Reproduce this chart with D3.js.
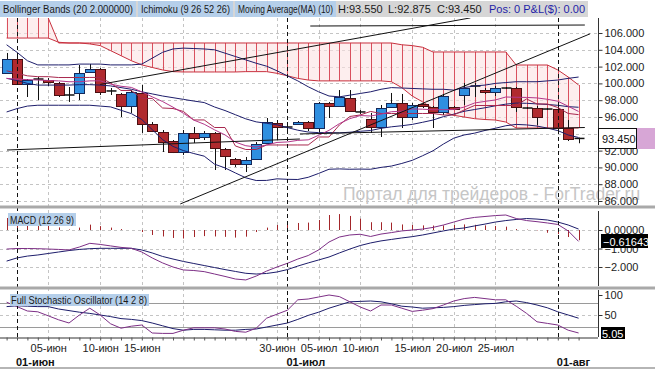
<!DOCTYPE html>
<html>
<head>
<meta charset="utf-8">
<script src="https://cdn.jsdelivr.net/npm/d3@7"></script>
<style>
  body { margin: 0; background: #fff; }
  svg { display: block; }
  text { font-family: "Liberation Sans", Arial, sans-serif; }
</style>
</head>
<body>
<div id="chart"></div>
<script>
// daily bars 31 May .. 03 Aug (no saturdays)
var dates = ["05-31","06-01","06-02","06-03","06-05","06-06","06-07","06-08","06-09","06-10",
  "06-12","06-13","06-14","06-15","06-16","06-17","06-19","06-20","06-21","06-22",
  "06-23","06-24","06-26","06-27","06-28","06-29","06-30","07-01","07-03","07-04",
  "07-05","07-06","07-07","07-08","07-10","07-11","07-12","07-13","07-14","07-15",
  "07-17","07-18","07-19","07-20","07-21","07-22","07-24","07-25","07-26","07-27",
  "07-28","07-29","07-31","08-01","08-02","08-03"];

var open = [101.24,102.90,99.93,100.52,100.40,100.05,98.62,98.86,101.36,101.71,
  99.10,98.74,97.31,98.86,95.17,94.21,93.14,91.83,94.10,93.62,
  94.10,92.19,91.00,90.40,91.00,92.90,95.29,94.81,95.17,95.40,
  94.69,97.67,97.31,98.26,96.60,95.76,94.81,97.19,97.67,96.00,
  97.55,97.19,96.60,97.19,98.62,99.69,99.21,98.98,99.45,99.45,
  97.07,97.07,96.95,96.95,94.69,93.45];
var high = [103.62,103.62,100.52,100.76,100.64,100.17,99.57,102.19,102.31,101.83,
  99.45,98.86,99.21,99.81,95.40,94.45,93.26,94.45,94.81,94.33,
  94.21,92.31,91.12,91.24,93.02,95.88,95.64,95.40,95.52,95.52,
  97.79,97.79,99.21,99.21,96.83,96.48,97.43,98.86,98.74,97.67,
  97.67,97.31,98.74,97.31,100.05,100.05,99.45,99.69,99.57,99.57,
  97.19,97.31,97.07,97.31,95.64,93.55];
var low = [101.12,99.81,98.38,98.02,99.69,98.38,97.79,98.02,101.24,98.62,
  98.62,96.00,96.48,94.10,94.21,91.83,91.71,91.48,92.90,93.26,
  89.69,89.69,90.05,89.45,90.88,92.90,93.26,94.45,95.05,94.33,
  94.21,95.88,97.19,96.60,96.36,94.10,93.62,97.07,94.69,95.64,
  97.07,94.69,96.24,96.83,97.43,98.38,98.74,98.50,99.33,96.60,
  96.95,95.05,96.83,94.21,93.14,92.875];
var close = [102.90,99.93,100.40,100.50,100.17,98.62,98.60,101.24,101.71,98.98,
  99.08,97.31,98.98,95.17,94.33,93.02,91.83,94.10,93.50,94.10,
  92.31,91.36,90.40,90.88,92.79,95.40,94.81,94.79,95.40,94.69,
  97.67,97.31,98.38,96.71,96.58,94.81,97.07,97.67,96.00,97.43,
  97.31,96.60,98.50,96.95,99.45,99.67,98.98,99.45,99.43,97.19,
  97.05,96.00,96.93,94.69,93.38,93.45];

var ma10 = [100.6,100.5,100.45,100.4,100.35,100.3,100.2,100.2,100.3,100.31,
  99.92,99.66,99.52,98.99,98.40,97.84,97.17,96.45,95.63,95.14,
  94.47,93.87,93.01,92.58,92.43,92.67,92.97,93.03,93.22,93.28,
  93.82,94.41,95.21,95.80,96.17,96.12,96.34,96.63,96.69,96.96,
  96.93,96.86,96.87,96.89,97.18,97.67,97.86,98.03,98.38,98.35,
  98.33,98.27,98.11,97.88,97.28,96.66];
var tenkan = [101.5,101.2,100.9,100.8,100.8,100.7,100.7,100.7,100.71,100.71,
  100.05,99.16,99.16,98.21,98.21,97.07,97.01,96.66,95.65,95.65,
  94.75,94.75,92.55,92.13,92.13,92.67,92.67,92.67,92.67,92.67,
  93.62,93.62,95.05,96.06,96.24,96.66,96.42,96.42,96.42,96.42,
  96.42,96.42,96.24,96.24,96.84,97.37,97.37,97.37,97.37,97.37,
  98.15,97.55,97.55,97.13,96.42,96.28];
var bbMid = [100.6,100.35,100.0,99.8,99.8,99.8,99.8,99.85,99.85,99.8,
  99.7,99.5,99.3,99.0,98.75,98.5,98.3,98.1,97.9,97.72,
  97.19,96.77,96.27,95.78,95.42,95.25,95.07,94.74,94.43,94.21,
  94.14,94.14,94.11,94.19,94.30,94.39,94.65,94.83,94.96,95.12,
  95.37,95.64,96.04,96.34,96.68,96.89,97.10,97.33,97.53,97.66,
  97.63,97.56,97.49,97.39,97.23,97.16];
var bbUp = [104.6,103.7,102.7,102.2,102.2,102.2,102.2,102.3,102.3,102.3,
  102.2,102.2,102.2,102.3,103.0,103.7,104.1,104.2,104.15,104.1,
  104.0,103.6,103.2,102.8,102.4,102.05,101.5,100.9,100.3,99.6,
  99.0,98.5,98.4,98.6,98.8,99.0,99.3,99.5,99.45,99.4,
  99.35,99.3,99.3,99.2,99.5,99.7,99.8,100.0,100.1,100.2,
  100.2,100.2,100.3,100.4,100.6,100.76];
var bbLow = [96.6,97.0,97.3,97.4,97.4,97.4,97.4,97.4,97.4,97.3,
  97.2,96.8,96.4,95.7,94.5,93.3,92.5,92.0,91.65,91.34,
  90.38,89.94,89.34,88.76,88.44,88.45,88.64,88.58,88.56,88.82,
  89.28,89.78,89.82,89.78,89.8,89.78,90.0,90.16,90.47,90.84,
  91.39,91.98,92.78,93.48,93.86,94.08,94.4,94.66,94.96,95.12,
  95.06,94.92,94.68,94.38,93.86,93.56];

var spanA = [108.7,108.7,108.7,108.7,107.8,104.81,104.81,104.81,104.81,104.81,
  104.81,104.81,104.81,104.81,104.81,104.81,104.81,104.81,104.81,104.81,
  104.81,104.81,104.81,104.81,104.81,104.81,104.81,104.81,104.81,104.81,
  104.81,104.81,104.81,104.81,104.81,104.81,104.81,104.81,104.6,104.5,
  104.3,103.74,103.74,103.74,103.74,103.74,103.74,103.74,103.74,102.19,
  102.19,102.19,102.19,101.6,100.76,99.81];
var spanB = [105.4,105.4,105.4,105.4,105.4,104.9,104.81,104.81,104.7,104.5,
  103.9,103.3,102.7,102.2,101.9,101.6,101.4,101.36,101.36,101.36,
  101.36,101.36,101.36,101.4,101.4,101.4,101.2,100.9,100.6,100.4,
  100.3,100.3,100.3,100.3,100.3,100.3,100.3,100.2,99.5,98.5,
  97.8,97.0,96.6,96.2,96.0,95.8,95.7,95.64,95.4,94.69,
  94.69,94.69,94.69,94.69,94.69,94.69];

// hand drawn trend lines: [bar position, price]
var trendLines = [
  [[9, 99.88], [44.6, 107.8]],
  [[16.7, 85.65], [56.1, 105.9]],
  [[29.2, 106.83], [55.6, 106.95]],
  [[0.04, 92.07], [28.2, 93.38]],
  [[28.2, 93.98], [55.6, 94.75]]
];

var macd = [-1.03,-1.0,-1.0,-1.01,-1.03,-1.05,-1.08,-0.92,-0.72,-0.78,
  -0.86,-0.94,-0.99,-1.19,-1.51,-1.78,-2.0,-2.16,-2.19,-2.25,
  -2.38,-2.51,-2.65,-2.7,-2.49,-2.22,-2.0,-1.8,-1.57,-1.38,
  -1.08,-0.65,-0.38,-0.27,-0.23,-0.35,-0.22,-0.14,-0.05,0.0,
  0.05,0.14,0.27,0.43,0.59,0.68,0.73,0.78,0.81,0.62,
  0.51,0.45,0.38,0.30,-0.05,-0.61643];
var signal = [-1.68,-1.51,-1.41,-1.35,-1.27,-1.19,-1.11,-1.05,-1.01,-0.99,
  -0.99,-0.99,-0.99,-1.08,-1.24,-1.43,-1.57,-1.70,-1.81,-1.92,
  -2.03,-2.14,-2.24,-2.34,-2.38,-2.35,-2.27,-2.14,-1.95,-1.78,
  -1.62,-1.46,-1.24,-1.03,-0.84,-0.70,-0.59,-0.51,-0.43,-0.36,
  -0.27,-0.16,-0.05,0.05,0.11,0.22,0.32,0.43,0.51,0.57,
  0.62,0.59,0.54,0.43,0.27,0.05];
var hist = [0.65,0.51,0.41,0.34,0.24,0.14,0.03,0.13,0.29,0.21,
  0.13,0.05,0.0,-0.11,-0.27,-0.35,-0.43,-0.46,-0.38,-0.33,
  -0.35,-0.37,-0.41,-0.36,-0.11,0.13,0.27,0.34,0.38,0.40,
  0.54,0.81,0.86,0.76,0.61,0.42,0.42,0.40,0.30,0.27,
  0.25,0.24,0.25,0.27,0.30,0.28,0.25,0.22,0.18,0.05,
  0.02,-0.02,-0.15,-0.22,-0.38,-0.55];

var stochK = [82,71,60,58,48,38,30,50,67,50,
  28,17,22,25,5,4,4,12,18,18,
  18,15,9,7,17,42,52,62,88,90,
  95,100,96,83,70,60,75,75,67,59,
  62,66,75,85,91,94,91,88,88,72,
  54,33,29,25,12,5.05];
var stochD = [71,73,72,71,71,65,61,57,54,50,
  46,41,39,36,30,23,16,12,14,14,
  13,12,12,14,15,20,25,30,39,49,
  57,67,75,83,84,85,83,78,72,70,
  67,68,69,71,74,76,78,79,83,85,
  81,75,68,58,50,42];

var priceTicks = [86,88,90,92,94,96,98,100,102,104,106];
var priceLabels = [86,88,90,92,96,98,100,102,104,106];
var gridDates = ["06-05","06-10","06-15","06-20","06-30","07-05","07-10","07-15","07-20","07-25"];
var labelDates = ["06-05","06-10","06-15","06-30","07-05","07-10","07-15","07-20","07-25"];
var monthStarts = ["06-01","07-01","08-01"];
var monthNames = {"05":"май","06":"июн","07":"июл","08":"авг"};

var W = 655, H = 369, R = 598;
var svg = d3.select("#chart").append("svg").attr("width", W).attr("height", H);

var x = d3.scaleLinear().domain([0, 55]).range([6.6, 578.6]);
var yMain = d3.scaleLinear().domain([86, 106]).range([201, 33]);
var yMacd = d3.scaleLinear().domain([-2, 0]).range([267, 230]);
var yStoch = d3.scaleLinear().domain([0, 100]).range([335, 295]);

function kOf(d) { return dates.indexOf(d); }
function dayText(d) { var p = d.split("-"); return p[1] + "-" + monthNames[p[0]]; }
function px(v) { return Math.round(v) + 0.5; }

var defs = svg.append("defs");
function addClip(id, top, bottom) {
  defs.append("clipPath").attr("id", id).append("rect")
    .attr("x", 0).attr("y", top).attr("width", R).attr("height", bottom - top);
}
addClip("cMain", 18, 205);
addClip("cMacd", 209, 286);
addClip("cStoch", 289, 337);

// ---------- grids ----------
var grid = svg.append("g");
grid.selectAll(".hg").data(priceTicks).enter().append("line")
  .attr("x1", 0).attr("x2", R).attr("y1", d => px(yMain(d))).attr("y2", d => px(yMain(d)))
  .attr("stroke", "#c4c4c4").attr("stroke-dasharray", "3,3");
grid.selectAll(".hm").data([0, -1, -2]).enter().append("line")
  .attr("x1", 0).attr("x2", R).attr("y1", d => px(yMacd(d))).attr("y2", d => px(yMacd(d)))
  .attr("stroke", "#c4c4c4").attr("stroke-dasharray", "3,3");
grid.append("line").attr("x1", 0).attr("x2", R).attr("y1", px(yStoch(50))).attr("y2", px(yStoch(50)))
  .attr("stroke", "#c4c4c4").attr("stroke-dasharray", "3,3");
grid.selectAll(".hs").data([20, 80]).enter().append("line")
  .attr("x1", 0).attr("x2", R).attr("y1", d => px(yStoch(d))).attr("y2", d => px(yStoch(d)))
  .attr("stroke", "#9a9a9a");
grid.selectAll(".vg").data(gridDates).enter().append("line")
  .attr("x1", d => px(x(kOf(d)))).attr("x2", d => px(x(kOf(d))))
  .attr("y1", 18).attr("y2", 337)
  .attr("stroke", "#c4c4c4").attr("stroke-dasharray", "3,3");

// watermark
svg.append("text").attr("x", 343).attr("y", 200).attr("font-size", 17.5)
  .attr("fill", "#c6c6c6").text("Портал для трейдеров - ForTrader.ru");

// ---------- main panel ----------
var gMain = svg.append("g").attr("clip-path", "url(#cMain)");
var ks = d3.range(dates.length);

// ichimoku cloud
gMain.append("path")
  .attr("d", d3.area().x(k => x(k)).y0(k => yMain(spanA[k])).y1(k => yMain(spanB[k]))(ks))
  .attr("fill", "#fbe3e3").attr("opacity", 0.6);
gMain.selectAll(".hatch").data(ks).enter().append("line")
  .attr("x1", k => px(x(k))).attr("x2", k => px(x(k)))
  .attr("y1", k => yMain(spanA[k])).attr("y2", k => yMain(spanB[k]))
  .attr("stroke", "#d9505e").attr("stroke-width", 1);
[spanA, spanB].forEach(function(s) {
  gMain.append("path").attr("d", d3.line().x((d, k) => x(k)).y(d => yMain(d))(s))
    .attr("fill", "none").attr("stroke", "#c8303e").attr("stroke-width", 1);
});

// candles
var bars = ks.map(k => ({k: k, o: open[k], h: high[k], l: low[k], c: close[k]}));
gMain.selectAll(".wick").data(bars).enter().append("line")
  .attr("x1", d => px(x(d.k))).attr("x2", d => px(x(d.k)))
  .attr("y1", d => yMain(d.h)).attr("y2", d => yMain(d.l))
  .attr("stroke", "#111");
var bodies = bars.filter(d => Math.abs(d.o - d.c) >= 0.05);
gMain.selectAll(".body").data(bodies).enter().append("rect")
  .attr("x", d => Math.round(x(d.k)) - 4.5)
  .attr("y", d => Math.round(yMain(Math.max(d.o, d.c))) + 0.5)
  .attr("width", 10)
  .attr("height", d => Math.max(1, Math.round(yMain(Math.min(d.o, d.c)) - yMain(Math.max(d.o, d.c)))))
  .attr("fill", d => d.c > d.o ? "#2f8fe0" : "#b02a2e")
  .attr("stroke", d => d.c > d.o ? "#14285a" : "#4a0f12");
gMain.selectAll(".doji").data(bars.filter(d => Math.abs(d.o - d.c) < 0.05)).enter().append("line")
  .attr("x1", d => Math.round(x(d.k)) - 4.5).attr("x2", d => Math.round(x(d.k)) + 5.5)
  .attr("y1", d => yMain(d.o)).attr("y2", d => yMain(d.o))
  .attr("stroke", "#111").attr("stroke-width", 1.5);

// indicator lines
var priceLine = d3.line().x((d, k) => x(k)).y(d => yMain(d));
[bbUp, bbMid, bbLow].forEach(function(s) {
  gMain.append("path").attr("d", priceLine(s)).attr("fill", "none")
    .attr("stroke", "#1d1d6b").attr("stroke-width", 1);
});
gMain.append("path").attr("d", priceLine(tenkan)).attr("fill", "none").attr("stroke", "#a8284e");
gMain.append("path").attr("d", priceLine(ma10)).attr("fill", "none").attr("stroke", "#b3378a");

// trend lines
gMain.selectAll(".trend").data(trendLines).enter().append("path")
  .attr("d", d3.line().x(d => x(d[0])).y(d => yMain(d[1])))
  .attr("fill", "none").attr("stroke", "#111").attr("stroke-width", 1);

// ---------- MACD panel ----------
var gMacd = svg.append("g").attr("clip-path", "url(#cMacd)");
gMacd.selectAll(".hist").data(ks).enter().append("line")
  .attr("x1", k => px(x(k))).attr("x2", k => px(x(k)))
  .attr("y1", yMacd(0)).attr("y2", k => yMacd(hist[k]))
  .attr("stroke", "#a3262a");
var macdLine = d3.line().x((d, k) => x(k)).y(d => yMacd(d));
gMacd.append("path").attr("d", macdLine(signal)).attr("fill", "none").attr("stroke", "#1d1d6b");
gMacd.append("path").attr("d", macdLine(macd)).attr("fill", "none").attr("stroke", "#7d2f86");

// ---------- Stochastic panel ----------
var gSt = svg.append("g").attr("clip-path", "url(#cStoch)");
var stLine = d3.line().x((d, k) => x(k)).y(d => yStoch(d));
gSt.append("path").attr("d", stLine(stochD)).attr("fill", "none").attr("stroke", "#1d1d6b");
gSt.append("path").attr("d", stLine(stochK)).attr("fill", "none").attr("stroke", "#7d2f86");

// month separators
svg.selectAll(".mline").data(monthStarts).enter().append("line")
  .attr("x1", d => px(x(kOf(d)))).attr("x2", d => px(x(kOf(d))))
  .attr("y1", 18).attr("y2", 337)
  .attr("stroke", "#111").attr("stroke-dasharray", "4,3");

// panel separators
svg.selectAll(".sep").data([205.5, 286.5]).enter().append("rect")
  .attr("x", 0).attr("y", d => d).attr("width", W).attr("height", 3).attr("fill", "#a9a9a9");
svg.append("rect").attr("x", 0).attr("y", 367).attr("width", W).attr("height", 2).attr("fill", "#b5b5b5");

// ---------- right axes ----------
function rightAxis(scale, vals, fmt, top, bottom) {
  var g = svg.append("g").attr("transform", "translate(" + (R + 0.5) + ",0)")
    .call(d3.axisRight(scale).tickValues(vals).tickFormat(fmt).tickSize(4).tickPadding(2));
  g.select(".domain").remove();
  g.attr("font-size", 11);
  g.selectAll(".tick line").attr("stroke", "#333");
  g.selectAll("text").attr("fill", "#222");
  svg.append("line").attr("x1", R + 0.5).attr("x2", R + 0.5).attr("y1", top).attr("y2", bottom).attr("stroke", "#333");
  return g;
}
rightAxis(yMain, priceLabels, d3.format(".3f"), 18, 205);
rightAxis(yMacd, [0, -1, -2], d => d === 0 ? "0.00000" : d3.format(".3f")(d), 211, 286);
rightAxis(yStoch, [50, 100], d3.format("d"), 290, 337);

// current value boxes
var yLast = yMain(close[close.length - 1]);
svg.append("rect").attr("x", 598.5).attr("y", Math.round(yLast) - 9.5).attr("width", 38).attr("height", 20)
  .attr("fill", "#fff").attr("stroke", "#111");
svg.append("rect").attr("x", 637).attr("y", Math.round(yLast) - 10).attr("width", 18).attr("height", 21)
  .attr("fill", "#d7a6d6");
svg.append("text").attr("x", 602).attr("y", Math.round(yLast) + 4.5).attr("font-size", 11)
  .attr("fill", "#111").text(d3.format(".3f")(close[close.length - 1]));

var yM = yMacd(macd[macd.length - 1]);
svg.append("rect").attr("x", 601).attr("y", Math.round(yM) - 7).attr("width", 47).attr("height", 14).attr("fill", "#000");
svg.append("text").attr("x", 603).attr("y", Math.round(yM) + 4.5).attr("font-size", 11)
  .attr("fill", "#fff").text(d3.format(".5f")(macd[macd.length - 1]));

var yS = yStoch(stochK[stochK.length - 1]);
svg.append("rect").attr("x", 601).attr("y", Math.round(yS) - 6).attr("width", 24).attr("height", 12).attr("fill", "#000");
svg.append("text").attr("x", 602).attr("y", Math.round(yS) + 4.5).attr("font-size", 11)
  .attr("fill", "#fff").text(d3.format(".2f")(stochK[stochK.length - 1]));

// ---------- date axis ----------
var bx = svg.append("g").attr("transform", "translate(0,337.5)")
  .call(d3.axisBottom(x).tickValues(ks)
    .tickFormat(k => labelDates.indexOf(dates[k]) >= 0 ? dayText(dates[k]) : "")
    .tickSize(3).tickPadding(4));
bx.select(".domain").attr("d", "M0,0.5H" + R).attr("stroke", "#333");
bx.attr("font-size", 11);
bx.selectAll(".tick line").attr("stroke", "#555");
bx.selectAll("text").attr("fill", "#222");
svg.selectAll(".mon").data(monthStarts).enter().append("text")
  .attr("x", d => x(kOf(d)) - 1).attr("y", 366).attr("font-size", 11).attr("font-weight", "bold")
  .attr("fill", "#111").text(d => dayText(d));

// ---------- header & panel titles ----------
var hdr = svg.append("g");
hdr.append("rect").attr("x", 0).attr("y", 1).attr("width", 588).attr("height", 16).attr("fill", "#d6d6d6");
var hdrBoxes = [
  {x0: 0, w: 136, t: "Bollinger Bands (20 2.000000)"},
  {x0: 138, w: 95, t: "Ichimoku (9 26 52 26)"},
  {x0: 235, w: 101, t: "Moving Average(MA) (10)"}
];
hdr.selectAll(".hb").data(hdrBoxes).enter().append("rect")
  .attr("x", d => d.x0).attr("y", 1).attr("width", d => d.w).attr("height", 16).attr("fill", "#b5cfea");
hdr.selectAll(".ht").data(hdrBoxes).enter().append("text")
  .attr("x", d => d.x0 + 3).attr("y", 13).attr("font-size", 10).attr("fill", "#1a1a1a")
  .attr("textLength", d => d.w - 6).attr("lengthAdjust", "spacingAndGlyphs").text(d => d.t);
var quote = [
  {x0: 338, t: "H:93.550", c: "#1a1a1a"},
  {x0: 388, t: "L:92.875", c: "#1a1a1a"},
  {x0: 437, t: "C:93.450", c: "#1a1a1a"},
  {x0: 489, t: "Pos: 0 P&L($): 0.00", c: "#1f1fa8"}
];
hdr.selectAll(".q").data(quote).enter().append("text")
  .attr("x", d => d.x0).attr("y", 13).attr("font-size", 11).attr("fill", d => d.c).text(d => d.t);

svg.append("rect").attr("x", 8).attr("y", 213).attr("width", 68).attr("height", 13).attr("fill", "#b5cfea");
svg.append("text").attr("x", 10).attr("y", 223.5).attr("font-size", 10).attr("fill", "#1a1a1a")
  .attr("textLength", 64).attr("lengthAdjust", "spacingAndGlyphs").text("MACD (12 26 9)");
svg.append("rect").attr("x", 10).attr("y", 294).attr("width", 139).attr("height", 12).attr("fill", "#b5cfea");
svg.append("text").attr("x", 11).attr("y", 304).attr("font-size", 10).attr("fill", "#1a1a1a")
  .attr("textLength", 136).attr("lengthAdjust", "spacingAndGlyphs").text("Full Stochastic Oscillator (14 2 8)");
</script>
</body>
</html>
